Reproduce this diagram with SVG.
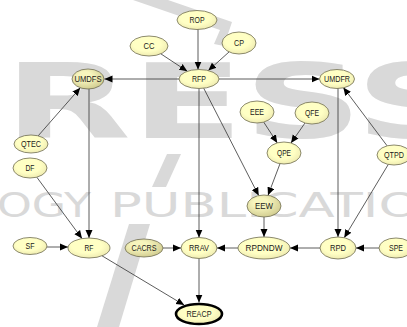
<svg xmlns="http://www.w3.org/2000/svg" width="407" height="327" viewBox="0 0 407 327">
<style>
.wm{fill:#d9d9d9;font-family:"DejaVu Sans",sans-serif}
.n ellipse{fill:url(#g1);stroke:#6e6c50;stroke-width:0.8}
.n.d ellipse{fill:url(#g2)}
.n text{font-family:"Liberation Sans",Arial,sans-serif;font-size:9.5px;fill:#1a1a1a;text-anchor:middle}
#REACP ellipse{stroke:#000;stroke-width:2.6}
.e line{stroke:#333;stroke-width:0.8;marker-end:url(#ah)}
</style>
<defs>
<radialGradient id="g1" cx="0.45" cy="0.4" r="0.65"><stop offset="0.55" stop-color="#ffffc4"/><stop offset="1" stop-color="#ecE8ae"/></radialGradient>
<radialGradient id="g2" cx="0.4" cy="0.35" r="0.7"><stop offset="0.3" stop-color="#f7f5bd"/><stop offset="1" stop-color="#cfca8e"/></radialGradient>
<marker id="ah" markerUnits="userSpaceOnUse" markerWidth="9" markerHeight="8" refX="8" refY="4" orient="auto"><path d="M0,0.5 L8,4 L0,7.5 z" fill="#000"/></marker>
</defs>
<rect width="407" height="327" fill="#fff"/>
<g id="watermark">
<polygon class="wm" points="133,0 168,0 232,22 224,46 214,44 220,30"/>
<polygon class="wm" points="152,187 166,187 181,154 167,154"/>
<polygon class="wm" points="97,327 119,327 150,224 129,224"/>
<text class="wm" x="4" y="138" font-size="104" font-weight="bold" textLength="470" lengthAdjust="spacingAndGlyphs">RESS</text>
<text class="wm" x="-3" y="217" font-size="34" textLength="94" lengthAdjust="spacingAndGlyphs">OGY</text>
<text class="wm" x="110" y="217" font-size="34" textLength="310" lengthAdjust="spacingAndGlyphs">PUBLICATIO</text>
</g>
<g id="connectors" class="e">
<line x1="198" y1="29" x2="198" y2="69.5"/>
<line x1="160.8" y1="53.8" x2="187.3" y2="71.3"/>
<line x1="229.1" y1="51.9" x2="208.3" y2="70.6"/>
<line x1="179" y1="79" x2="104.5" y2="79"/>
<line x1="219" y1="79" x2="319.5" y2="79"/>
<line x1="199" y1="88.5" x2="199" y2="237.5"/>
<line x1="203.7" y1="88.2" x2="258.7" y2="195.6"/>
<line x1="38.2" y1="135.8" x2="80.3" y2="87.8"/>
<line x1="89" y1="89" x2="89" y2="238"/>
<line x1="36.8" y1="177.2" x2="82" y2="238.6"/>
<line x1="47" y1="247" x2="68" y2="247"/>
<line x1="102" y1="255.8" x2="184.2" y2="305.1"/>
<line x1="338" y1="88" x2="338" y2="237"/>
<line x1="387.1" y1="145.8" x2="343.3" y2="87.4"/>
<line x1="388.3" y1="164.4" x2="344.2" y2="237.7"/>
<line x1="263.7" y1="122.1" x2="277.3" y2="142.9"/>
<line x1="305" y1="123" x2="291" y2="143"/>
<line x1="280" y1="163.7" x2="268" y2="195.3"/>
<line x1="264" y1="217" x2="264" y2="237"/>
<line x1="320" y1="248" x2="290" y2="248"/>
<line x1="379" y1="248" x2="356" y2="248"/>
<line x1="238" y1="248" x2="217" y2="248"/>
<line x1="163" y1="248" x2="181" y2="248"/>
<line x1="199" y1="258.5" x2="199" y2="302.5"/>
</g>
<g id="ROP" class="n"><ellipse cx="197" cy="20" rx="20" ry="9.5"/><text x="197" y="23.3" textLength="15" lengthAdjust="spacingAndGlyphs">ROP</text></g>
<g id="CC" class="n"><ellipse cx="149" cy="46" rx="19" ry="10"/><text x="149" y="49.3" textLength="11" lengthAdjust="spacingAndGlyphs">CC</text></g>
<g id="CP" class="n"><ellipse cx="239" cy="43" rx="17" ry="11"/><text x="239" y="46.3" textLength="10" lengthAdjust="spacingAndGlyphs">CP</text></g>
<g id="RFP" class="n"><ellipse cx="199" cy="79" rx="20" ry="9.5"/><text x="199" y="82.3" textLength="14" lengthAdjust="spacingAndGlyphs">RFP</text></g>
<g id="UMDFS" class="n d"><ellipse cx="88" cy="79" rx="16" ry="10"/><text x="88" y="82.3" textLength="27" lengthAdjust="spacingAndGlyphs">UMDFS</text></g>
<g id="UMDFR" class="n"><ellipse cx="337" cy="79" rx="17.5" ry="9.5"/><text x="337" y="82.3" textLength="26" lengthAdjust="spacingAndGlyphs">UMDFR</text></g>
<g id="EEE" class="n"><ellipse cx="257" cy="112" rx="17" ry="11"/><text x="257" y="115.3" textLength="14" lengthAdjust="spacingAndGlyphs">EEE</text></g>
<g id="QFE" class="n"><ellipse cx="312" cy="113" rx="17" ry="11"/><text x="312" y="116.3" textLength="14" lengthAdjust="spacingAndGlyphs">QFE</text></g>
<g id="QPE" class="n"><ellipse cx="284" cy="153" rx="17" ry="11"/><text x="284" y="156.3" textLength="14" lengthAdjust="spacingAndGlyphs">QPE</text></g>
<g id="QTEC" class="n"><ellipse cx="31" cy="144" rx="17" ry="9"/><text x="31" y="147.3" textLength="20" lengthAdjust="spacingAndGlyphs">QTEC</text></g>
<g id="QTPD" class="n"><ellipse cx="394" cy="155" rx="17" ry="10"/><text x="394" y="158.3" textLength="20" lengthAdjust="spacingAndGlyphs">QTPD</text></g>
<g id="DF" class="n"><ellipse cx="30" cy="168" rx="17" ry="10"/><text x="30" y="171.3" textLength="9" lengthAdjust="spacingAndGlyphs">DF</text></g>
<g id="EEW" class="n d"><ellipse cx="264" cy="206" rx="17" ry="11"/><text x="264" y="209.3" textLength="18" lengthAdjust="spacingAndGlyphs">EEW</text></g>
<g id="SF" class="n"><ellipse cx="30" cy="246" rx="17" ry="8.5"/><text x="30" y="249.3" textLength="9" lengthAdjust="spacingAndGlyphs">SF</text></g>
<g id="RF" class="n"><ellipse cx="89" cy="248" rx="21" ry="10"/><text x="89" y="251.3" textLength="9" lengthAdjust="spacingAndGlyphs">RF</text></g>
<g id="CACRS" class="n d"><ellipse cx="144" cy="248" rx="19" ry="9"/><text x="144" y="251.3" textLength="25" lengthAdjust="spacingAndGlyphs">CACRS</text></g>
<g id="RRAV" class="n"><ellipse cx="199" cy="248" rx="18" ry="10.5"/><text x="199" y="251.3" textLength="20" lengthAdjust="spacingAndGlyphs">RRAV</text></g>
<g id="RPDNDW" class="n"><ellipse cx="264" cy="248" rx="26" ry="11"/><text x="264" y="251.3" textLength="37" lengthAdjust="spacingAndGlyphs">RPDNDW</text></g>
<g id="RPD" class="n"><ellipse cx="338" cy="248" rx="18" ry="11"/><text x="338" y="251.3" textLength="16" lengthAdjust="spacingAndGlyphs">RPD</text></g>
<g id="SPE" class="n"><ellipse cx="396" cy="248" rx="17" ry="10"/><text x="396" y="251.3" textLength="14" lengthAdjust="spacingAndGlyphs">SPE</text></g>
<g id="REACP" class="n"><ellipse cx="199" cy="314" rx="23" ry="10"/><text x="199" y="317.3" textLength="25" lengthAdjust="spacingAndGlyphs">REACP</text></g>
</svg>
